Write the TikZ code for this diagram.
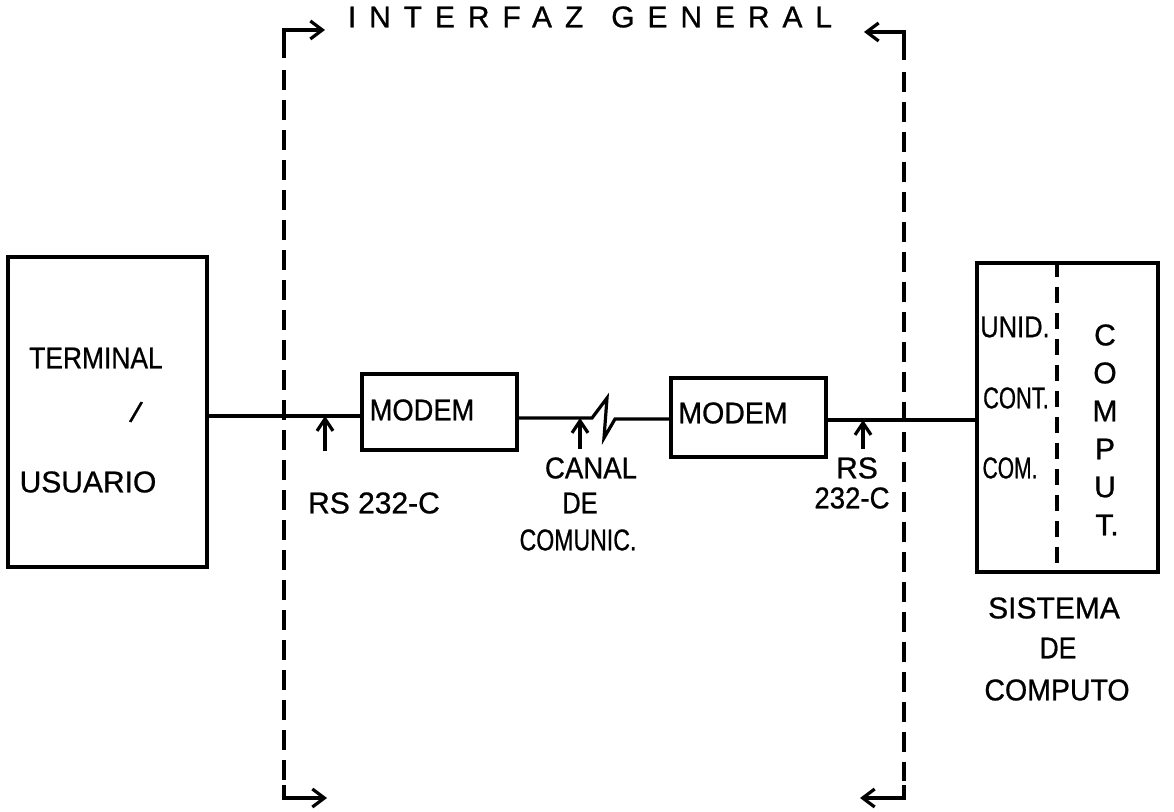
\documentclass[tikz,border=0pt]{standalone}
\usepackage{fontspec}
\newfontfamily\lab[FakeBold=0.8]{Liberation Sans}
\newfontfamily\wlab[LetterSpace=43,FakeBold=0.8]{Liberation Sans}
\usetikzlibrary{arrows.meta,calc}
\begin{document}
\begin{tikzpicture}[x=0.5pt,y=-0.5pt,
  box/.style={draw,line width=1.7pt,inner sep=0pt},
  wire/.style={line width=1.6pt},
  lbl/.style={inner sep=0pt,font=\lab\fontsize{15pt}{17pt}\selectfont},
  ptr/.style={line width=1.6pt,-{Straight Barb[length=6pt,width=8pt,line width=1.6pt]}},
  brk/.style={line width=1.6pt,-{Straight Barb[length=6pt,width=9pt,line width=1.6pt]}},
  dsh/.style={line width=1.6pt,dash pattern=on 10pt off 5pt},
  dshin/.style={line width=1.6pt,dash pattern=on 8pt off 5pt}]
\useasboundingbox (0,0) rectangle (1174,812);
\fill[white] (0,0) rectangle (1174,812);

% main boxes
\node[box,minimum width=99.5pt,minimum height=155pt] (term) at (107.5,412) {};
\node[box,minimum width=77.5pt,minimum height=38pt] (modemA) at (439.5,412) {};
\node[box,minimum width=77.5pt,minimum height=39.5pt] (modemB) at (748.5,417.5) {};
\node[box,minimum width=90.5pt,minimum height=154.5pt] (comp) at (1067.5,417.5) {};

% line levels
\coordinate (yA) at (0,416);
\coordinate (yB) at (0,418);
\coordinate (yC) at (0,419);
\coordinate (yD) at (0,420);
\coordinate (zz1) at (592,418);
\coordinate (zz2) at (607,398);
\coordinate (zz3) at (604,438);
\coordinate (zz4) at (615,419);

% connectors
\draw[wire] (term.east |- yA) -- (modemA.west |- yA);
\draw[wire,line join=miter] (modemA.east |- yB) -- (zz1) -- (zz2) -- (zz3) -- (zz4) -- (modemB.west |- yC);
\draw[wire] (modemB.east |- yD) -- (comp.west |- yD);

% divider in computer box
\coordinate (dv) at (1057,0);
\draw[dshin] (comp.north -| dv) -- (comp.south -| dv);

% texts in boxes
\node[lbl,xscale=0.88] (tTerm) at (96,358) {TERMINAL};
\node[lbl,rotate=-15] (tSlash) at (136,412) {/};
\node[lbl] (tUsu) at (88,482) {USUARIO};
\node[lbl,xscale=0.91] (tModA) at (422,410) {MODEM};
\node[lbl,xscale=0.95] (tModB) at (733,413) {MODEM};
\node[lbl,xscale=0.85] (tUnid) at (1015,327) {UNID.};
\node[lbl,xscale=0.73] (tCont) at (1016,398) {CONT.};
\node[lbl,xscale=0.7] (tCom) at (1010,468) {COM.};
\node[lbl] (c1) at (1105,335) {C};
\node[lbl] (c2) at (1105,373) {O};
\node[lbl] (c3) at (1105,411) {M};
\node[lbl] (c4) at (1105,449) {P};
\node[lbl] (c5) at (1105,487) {U};
\node[lbl] (c6) at (1107,525) {T.};

% pointer arrows and labels
\coordinate (pA) at (325,451);
\coordinate (pB) at (580,449);
\coordinate (pC) at (863,449);
\draw[ptr] (pA) -- (pA |- yA);
\draw[ptr] (pB) -- (pB |- yB);
\draw[ptr] (pC) -- (pC |- yD);
\node[lbl] (rsA) at (374,503) {RS 232-C};
\node[lbl,xscale=0.92] (can1) at (591,468) {CANAL};
\node[lbl,xscale=0.85] (can2) at (580,503) {DE};
\node[lbl,xscale=0.77] (can3) at (578,540) {COMUNIC.};
\node[lbl] (rsB1) at (857,468) {RS};
\node[lbl,xscale=0.92] (rsB2) at (852,498) {232-C};

% system label
\node[lbl] (s1) at (1054,608) {SISTEMA};
\node[lbl,xscale=0.88] (s2) at (1058,648) {DE};
\node[lbl,xscale=0.95] (s3) at (1057,690) {COMPUTO};

% interface brackets
\coordinate (lt) at (284,30);
\coordinate (ltd) at (284,58);
\coordinate (lte) at (325,30);
\coordinate (lb) at (284,798);
\coordinate (lbd) at (284,785);
\coordinate (lbe) at (327,798);
\coordinate (rt) at (904,32);
\coordinate (rtd) at (904,60);
\coordinate (rte) at (864,32);
\coordinate (rb) at (904,798);
\coordinate (rbd) at (904,785);
\coordinate (rbe) at (860,798);
\draw[brk] (ltd) -- (lt) -- (lte);
\draw[brk] (lbd) -- (lb) -- (lbe);
\draw[brk] (rtd) -- (rt) -- (rte);
\draw[brk] (rbd) -- (rb) -- (rbe);
\draw[dsh] ($(ltd)+(0,12)$) -- ($(lbd)+(0,-4)$);
\draw[dsh] ($(rtd)+(0,12)$) -- ($(rbd)+(0,-4)$);

\node[inner sep=0pt,font=\wlab\fontsize{15pt}{17pt}\selectfont] (title) at (590,17) {INTERFAZ\hspace{14pt}GENERAL};
\end{tikzpicture}
\end{document}
